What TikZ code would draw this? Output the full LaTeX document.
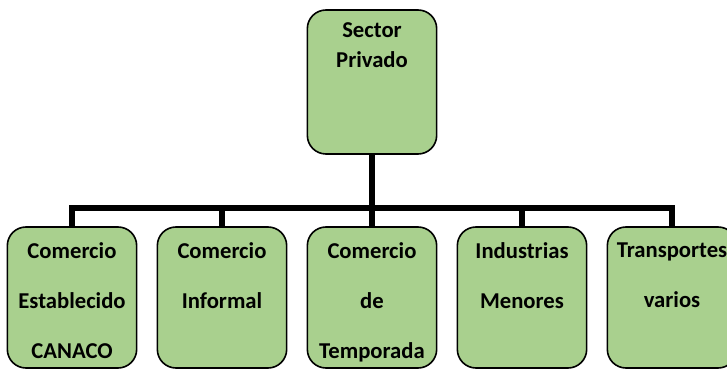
\documentclass[tikz,border=0pt]{standalone}
\usepackage{fontspec}
\setmainfont{Carlito}
\usepackage{xcolor}
\definecolor{verde}{RGB}{169,208,142}

\tikzset{
  caja/.style={draw=black, line width=1.2pt, fill=verde, rounded corners=14pt,
    minimum width=97pt, minimum height=105.75pt, inner sep=0pt},
  rotulo/.style={anchor=north, align=center, inner sep=0pt,
    font=\fontsize{17}{37.5}\selectfont\bfseries},
  conector/.style={line width=3.8pt, line join=miter}
}

\begin{document}
\begin{tikzpicture}[x=0.75pt, y=-0.75pt]
  \useasboundingbox (0,0) rectangle (727,370);

  % Fixed coordinates
  \node[caja, minimum height=108pt,
    label={[rotulo, font=\fontsize{17}{22.5}\selectfont\bfseries, yshift=-10pt]north:{Sector\\Privado}}]
    (privado) at (372,82) {};

  \node[caja, label={[rotulo, yshift=-12pt]north:{Comercio\\Establecido\\CANACO}}]
    (establecido) at (72,297.5) {};
  \node[caja, label={[rotulo, yshift=-12pt]north:{Comercio\\Informal}}]
    (informal) at (222,297.5) {};
  \node[caja, label={[rotulo, yshift=-12pt]north:{Comercio\\de\\Temporada}}]
    (temporada) at (372,297.5) {};
  \node[caja, label={[rotulo, yshift=-12pt]north:{Industrias\\Menores}}]
    (industrias) at (522,297.5) {};
  \node[caja, label={[rotulo, yshift=-12pt]north:{Transportes\\varios}}]
    (transportes) at (672,297.5) {};

  % Bus line
  \coordinate (bus) at (372,208);
  \draw[conector] (privado.south) -- (privado.south |- bus);
  \draw[conector] (establecido.north) |- (transportes.north |- bus) -- (transportes.north);
  \draw[conector] (informal.north) -- (informal.north |- bus);
  \draw[conector] (temporada.north) -- (temporada.north |- bus);
  \draw[conector] (industrias.north) -- (industrias.north |- bus);
\end{tikzpicture}
\end{document}
